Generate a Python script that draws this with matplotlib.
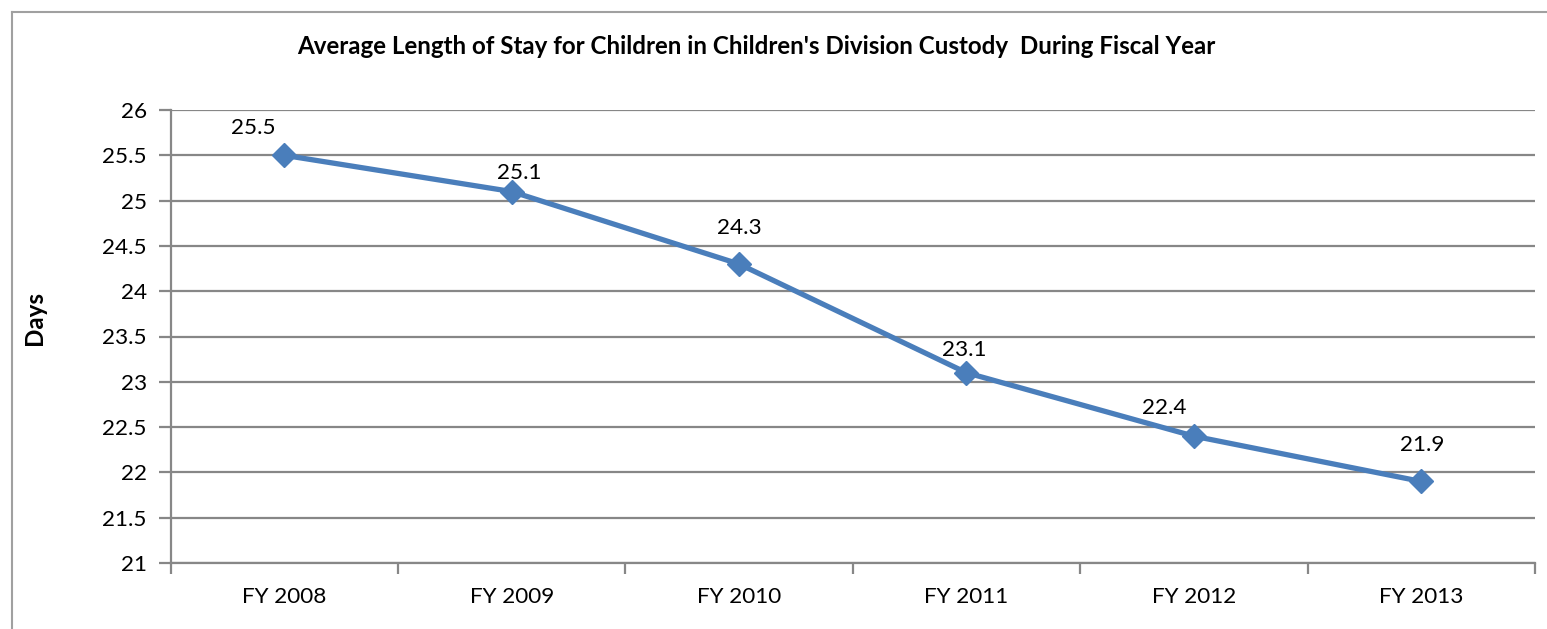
import matplotlib
matplotlib.use("Agg")
import matplotlib.pyplot as plt
from matplotlib.lines import Line2D
from matplotlib.ticker import MultipleLocator, FixedLocator, NullFormatter

categories = ["FY 2008", "FY 2009", "FY 2010", "FY 2011", "FY 2012", "FY 2013"]
days = [25.5, 25.1, 24.3, 23.1, 22.4, 21.9]
value_labels = ["25.5", "25.1", "24.3", "23.1", "22.4", "21.9"]
# label offsets (pixels) relative to each point
label_dx = [-31, 8, 0, -2, -30, 1]
label_dy = [27, 19, 36, 23, 28, 36]

plt.rcParams['font.family'] = ['Lato', 'DejaVu Sans']

W, H = 1547, 629
fig = plt.figure(figsize=(W / 100, H / 100), dpi=100)
fig.patch.set_facecolor('white')

# outer chart border (top and left visible)
border_c = '#A0A0A0'
fig.add_artist(Line2D([11.5 / W, 11.5 / W], [0, 1 - 11.5 / H], transform=fig.transFigure, color=border_c, lw=1.5))
fig.add_artist(Line2D([11.5 / W, 1], [1 - 11.5 / H, 1 - 11.5 / H], transform=fig.transFigure, color=border_c, lw=1.5))

left, right, top, bottom = 170.5, 1535, 110, 563
ax = fig.add_axes([left / W, 1 - bottom / H, (right - left) / W, (bottom - top) / H])

n = len(categories)
x = list(range(n))
ax.set_xlim(-0.5, n - 0.5)
ax.set_ylim(21, 26)

fs = 16.2
grid_c = '#878787'
ax.yaxis.grid(True, color=grid_c, lw=1.6)
ax.set_axisbelow(True)
ytick_vals = [21 + 0.5 * i for i in range(11)]
ax.set_yticks(ytick_vals)
ax.set_yticklabels([("%g" % v) for v in ytick_vals], fontsize=fs)

ax.xaxis.set_major_locator(FixedLocator([i - 0.5 for i in range(n + 1)]))
ax.xaxis.set_major_formatter(NullFormatter())
ax.xaxis.set_minor_locator(FixedLocator(x))
ax.set_xticklabels(categories, minor=True, fontsize=fs)
ax.tick_params(axis='x', which='minor', length=0, pad=17)
ax.tick_params(axis='x', which='major', length=8, width=1.6, color=grid_c, direction='out')
ax.tick_params(axis='y', length=9, width=1.6, color=grid_c, direction='out', pad=8)

for s in ['top', 'right']:
    ax.spines[s].set_visible(False)
for s in ['left', 'bottom']:
    ax.spines[s].set_color(grid_c)
    ax.spines[s].set_linewidth(1.6)

ax.plot(x, days, color='#4A7EBB', lw=3.8, marker='D', markersize=12,
        markerfacecolor='#4A7EBB', markeredgecolor='#4A7EBB', solid_capstyle='round', zorder=3, clip_on=False)

for xi, yi, lab, dx, dy in zip(x, days, value_labels, label_dx, label_dy):
    ax.annotate(lab, (xi, yi), xytext=(dx * 0.72, dy * 0.72), textcoords='offset points',
                ha='center', va='center', fontsize=fs)

fig.text(756 / W, 1 - 47 / H, "Average Length of Stay for Children in Children's Division Custody  During Fiscal Year",
         ha='center', va='center', fontsize=17.4, fontweight='bold')
fig.text(35 / W, 1 - 318 / H, "Days", ha='center', va='center', rotation=90, fontsize=17.4, fontweight='bold')

fig.savefig("out.png", dpi=100, facecolor='white')
